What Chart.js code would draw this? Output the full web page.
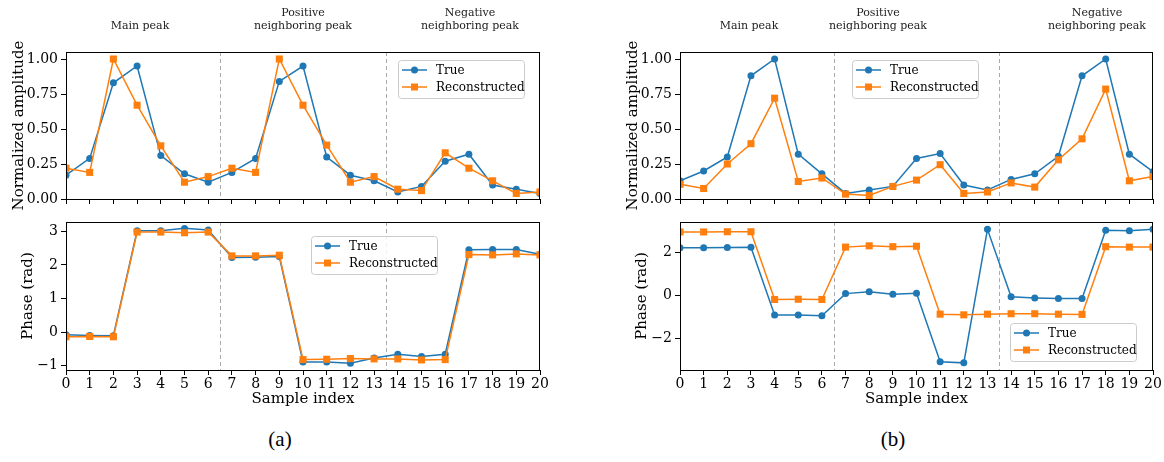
<!DOCTYPE html>
<html>
<head>
<meta charset="utf-8">
<script src="https://cdn.jsdelivr.net/npm/chart.js@4/dist/chart.umd.min.js"></script>
<style>
  body { margin: 0; background: #fff; width: 1164px; height: 462px; position: relative; overflow: hidden; }
  canvas { position: absolute; }
  .note { position: absolute; font-family: 'DejaVu Serif', serif; font-size: 11px; line-height: 13px;
          text-align: center; color: #222; transform: translateX(-50%); white-space: nowrap; }
  .cap { position: absolute; font-family: 'Liberation Serif', serif; font-size: 21px; transform: translateX(-50%); }
</style>
</head>
<body>
<canvas id="ampA" width="570" height="190" style="left:0;top:30px"></canvas>
<canvas id="phaseA" width="570" height="210" style="left:0;top:210px"></canvas>
<canvas id="ampB" width="550" height="190" style="left:614px;top:30px"></canvas>
<canvas id="phaseB" width="550" height="210" style="left:614px;top:210px"></canvas>

<div class="note" style="left:140px;top:19px">Main peak</div>
<div class="note" style="left:303px;top:6px">Positive<br>neighboring peak</div>
<div class="note" style="left:470px;top:6px">Negative<br>neighboring peak</div>
<div class="note" style="left:749px;top:19px">Main peak</div>
<div class="note" style="left:878px;top:6px">Positive<br>neighboring peak</div>
<div class="note" style="left:1097px;top:6px">Negative<br>neighboring peak</div>

<div class="cap" style="left:280px;top:427px">(a)</div>
<div class="cap" style="left:893px;top:427px">(b)</div>

<script>
// sample positions and region borders
const sampleIndex = [0,1,2,3,4,5,6,7,8,9,10,11,12,13,14,15,16,17,18,19,20];
const regionEdges = [6.5, 13.5];

// (a) amplitude
const ampTrueA  = [0.17,0.29,0.83,0.95,0.31,0.18,0.12,0.19,0.29,0.84,0.95,0.30,0.17,0.13,0.05,0.09,0.27,0.32,0.10,0.07,0.04];
const ampReconA = [0.22,0.19,1.00,0.67,0.38,0.12,0.16,0.22,0.19,1.00,0.67,0.385,0.12,0.16,0.07,0.06,0.33,0.22,0.13,0.04,0.05];
// (a) phase
const phaseTrueA  = [-0.08,-0.10,-0.11,3.02,3.02,3.09,3.04,2.22,2.23,2.25,-0.89,-0.89,-0.93,-0.77,-0.66,-0.73,-0.66,2.45,2.46,2.46,2.32];
const phaseReconA = [-0.14,-0.13,-0.14,2.98,2.98,2.96,2.98,2.27,2.27,2.29,-0.82,-0.81,-0.79,-0.80,-0.80,-0.83,-0.82,2.31,2.30,2.33,2.30];

// (b) amplitude
const ampTrueB  = [0.13,0.20,0.30,0.88,1.00,0.32,0.18,0.04,0.065,0.09,0.29,0.325,0.10,0.065,0.14,0.18,0.305,0.88,1.00,0.32,0.195];
const ampReconB = [0.105,0.075,0.25,0.395,0.72,0.125,0.15,0.035,0.025,0.09,0.135,0.245,0.04,0.05,0.115,0.085,0.28,0.43,0.785,0.13,0.16];
// (b) phase
const phaseTrueB  = [2.21,2.21,2.22,2.23,-0.90,-0.90,-0.93,0.09,0.18,0.06,0.11,-3.06,-3.11,3.06,-0.06,-0.11,-0.14,-0.14,3.02,3.00,3.06];
const phaseReconB = [2.94,2.94,2.95,2.95,-0.18,-0.17,-0.18,2.24,2.30,2.26,2.28,-0.86,-0.89,-0.86,-0.84,-0.84,-0.86,-0.87,2.26,2.24,2.24];

const seriesNames = ['True', 'Reconstructed'];
const BLUE = '#1f77b4', ORANGE = '#ff7f0e';

Chart.defaults.font.family = "'DejaVu Serif', serif";
Chart.defaults.font.size = 14;
Chart.defaults.color = '#000';

function pts(arr) {
  return sampleIndex.map((x, i) => ({ x: x, y: arr[i] }));
}

function fmtAmp(v) { return v.toFixed(2); }
function fmtPhase(v) { return (v < 0 ? '\u2212' : '') + Math.abs(v); }

// dashed region dividers + frame
const framePlugin = {
  id: 'frame',
  beforeDatasetsDraw(chart) {
    const { ctx, chartArea: a, scales } = chart;
    ctx.save();
    ctx.strokeStyle = '#aaa';
    ctx.lineWidth = 1;
    ctx.setLineDash([4, 3]);
    regionEdges.forEach(v => {
      const x = Math.round(scales.x.getPixelForValue(v)) + 0.5;
      ctx.beginPath();
      ctx.moveTo(x, a.top);
      ctx.lineTo(x, a.bottom);
      ctx.stroke();
    });
    ctx.restore();
  },
  afterDraw(chart) {
    const { ctx, chartArea: a } = chart;
    ctx.save();
    ctx.strokeStyle = '#000';
    ctx.lineWidth = 1;
    ctx.strokeRect(Math.round(a.left) + 0.5, Math.round(a.top) + 0.5,
                   Math.round(a.right - a.left) - 1, Math.round(a.bottom - a.top));
    ctx.restore();
  }
};

// legend box drawn inside the axes
const boxLegend = {
  id: 'boxLegend',
  afterDraw(chart, args, opts) {
    const ctx = chart.ctx;
    const x0 = opts.x, y0 = opts.y, w = 126, h = 38;
    ctx.save();
    ctx.fillStyle = 'rgba(255,255,255,0.85)';
    ctx.strokeStyle = '#ccc';
    ctx.lineWidth = 1;
    ctx.beginPath();
    ctx.roundRect(x0 + 0.5, y0 + 0.5, w, h, 3);
    ctx.fill();
    ctx.stroke();
    chart.data.datasets.forEach((ds, i) => {
      const y = y0 + 10 + i * 17;
      ctx.strokeStyle = ds.borderColor;
      ctx.lineWidth = 1.5;
      ctx.beginPath();
      ctx.moveTo(x0 + 4, y);
      ctx.lineTo(x0 + 29, y);
      ctx.stroke();
      ctx.fillStyle = ds.borderColor;
      ctx.beginPath();
      if (ds.pointStyle === 'rect') {
        ctx.rect(x0 + 13, y - 3.5, 7, 7);
      } else {
        ctx.arc(x0 + 16.5, y, 3.5, 0, Math.PI * 2);
      }
      ctx.fill();
      ctx.fillStyle = '#000';
      ctx.font = "12px 'DejaVu Serif'";
      ctx.textBaseline = 'middle';
      ctx.fillText(ds.label, x0 + 38, y + 1);
    });
    ctx.restore();
  }
};

function makeChart(id, trueVals, reconVals, y, layout) {
  return new Chart(document.getElementById(id), {
    type: 'line',
    data: {
      datasets: [
        { label: seriesNames[0], data: pts(trueVals), borderColor: BLUE, backgroundColor: BLUE,
          borderWidth: 1.5, pointStyle: 'circle', pointRadius: 3.5, pointBorderWidth: 0, order: 2 },
        { label: seriesNames[1], data: pts(reconVals), borderColor: ORANGE, backgroundColor: ORANGE,
          borderWidth: 1.5, pointStyle: 'rect', pointRadius: 5, pointBorderWidth: 0, order: 1 }
      ]
    },
    options: {
      responsive: false,
      animation: false,
      layout: { padding: layout.padding },
      plugins: {
        legend: { display: false },
        tooltip: { enabled: false },
        boxLegend: layout.legend
      },
      scales: {
        x: {
          type: 'linear', min: 0, max: 20,
          border: { display: false },
          grid: { drawOnChartArea: false, drawTicks: true, tickLength: 5, color: '#000' },
          ticks: { display: layout.xLabels, stepSize: 1, autoSkip: false, maxRotation: 0, padding: 1 },
          title: { display: layout.xLabels, text: 'Sample index', font: { size: 15 }, padding: { top: 0, bottom: 0 } },
          afterFit(s) { s.height = layout.xHeight; }
        },
        y: {
          min: y.min, max: y.max,
          border: { display: false },
          grid: { drawOnChartArea: false, drawTicks: true, tickLength: 5, color: '#000' },
          ticks: { stepSize: y.step, includeBounds: false, padding: 3, callback: y.fmt },
          title: { display: true, text: y.title, font: { size: 15 }, padding: { top: y.titlePad, bottom: 0 } },
          afterFit(s) { s.width = 66; }
        }
      }
    },
    plugins: [framePlugin, boxLegend]
  });
}

const ampAxis = { min: 0, max: 1.05, step: 0.25, fmt: fmtAmp, title: 'Normalized amplitude', titlePad: 10 };

makeChart('ampA', ampTrueA, ampReconA, ampAxis,
  { padding: { left: 0, top: 22, right: 30, bottom: 15 }, xHeight: 6, xLabels: false, legend: { x: 398, y: 30 } });
makeChart('phaseA', phaseTrueA, phaseReconA,
  { min: -1.13, max: 3.28, step: 1, fmt: fmtPhase, title: 'Phase (rad)', titlePad: 19 },
  { padding: { left: 0, top: 12, right: 30, bottom: 12 }, xHeight: 38, xLabels: true, legend: { x: 311, y: 26 } });
makeChart('ampB', ampTrueB, ampReconB, ampAxis,
  { padding: { left: 0, top: 22, right: 11, bottom: 15 }, xHeight: 6, xLabels: false, legend: { x: 238, y: 30 } });
makeChart('phaseB', phaseTrueB, phaseReconB,
  { min: -3.44, max: 3.40, step: 2, fmt: fmtPhase, title: 'Phase (rad)', titlePad: 19 },
  { padding: { left: 0, top: 12, right: 11, bottom: 12 }, xHeight: 38, xLabels: true, legend: { x: 396, y: 113 } });
</script>
</body>
</html>
